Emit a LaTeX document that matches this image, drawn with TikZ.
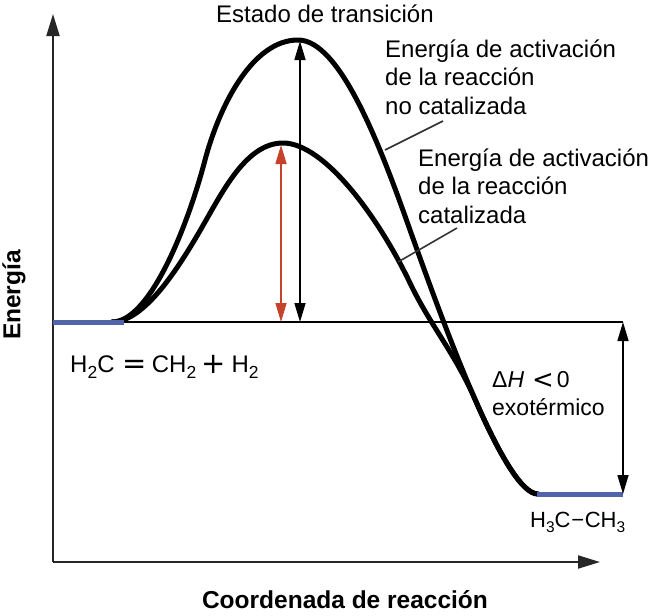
\documentclass[tikz,border=0pt]{standalone}
\usepackage{fontspec}
\setmainfont{Liberation Sans}
\newfontfamily\symf{DejaVu Sans}
\usetikzlibrary{arrows.meta}
\definecolor{lvlblue}{HTML}{5064AA}
\definecolor{actred}{HTML}{C4432A}
\definecolor{leadgray}{HTML}{333333}
\newcommand{\mysub}[1]{\raisebox{-6pt}{\fontsize{17.5}{17.5}\selectfont #1}}
\newcommand{\mysubs}[1]{\raisebox{-0.26em}{\fontsize{15.5}{15.5}\selectfont #1}}
\newcommand{\bigeq}{\raisebox{-1pt}{\fontsize{29}{29}\selectfont\symf =}}
\newcommand{\bigplus}{\raisebox{-1.5pt}{\fontsize{29}{29}\selectfont\symf +}}
\newcommand{\bigless}{\raisebox{-1pt}{\fontsize{26}{26}\selectfont\symf <}}
\begin{document}
\begin{tikzpicture}[x=1pt,y=-1pt,
  lbl/.style={font=\fontsize{24}{28.5}\selectfont, inner sep=0pt, align=left},
  axlbl/.style={font=\fontsize{24.5}{28}\selectfont\bfseries, inner sep=0pt},
  axis/.style={line width=2pt, draw=black!85, -{Triangle[length=22pt,width=13pt]}},
  curve/.style={line width=5pt, line cap=round, line join=round},
  level/.style={line width=5pt, draw=lvlblue},
  dimarrow/.style={line width=1.6pt, {Triangle[length=19pt,width=11pt]}-{Triangle[length=19pt,width=11pt]}},
  leader/.style={line width=1.6pt, draw=leadgray}]
\useasboundingbox (0,0) rectangle (651,616);
% axes
\coordinate (O) at (53,562);
\coordinate (ytop) at (53,14);
\coordinate (xend) at (600,562);
\draw[axis] (O) -- (ytop);
\draw[axis] (O) -- (xend);
% levels
\coordinate (r0) at (53,322);
\coordinate (r1) at (124,322);
\coordinate (rr) at (623,322);
\coordinate (p0) at (537,494);
\coordinate (p1) at (623,494);
\draw[line width=1.5pt] (r1) -- (rr);
% uncatalysed curve
\draw[curve] (112,322) .. controls (150,322) and (188,225) .. (205,160)
  .. controls (220,104) and (253,40) .. (298,40)
  .. controls (340,40) and (380,145) .. (410,230)
  .. controls (445,328) and (505,494) .. (538,494);
% catalysed curve
\draw[curve] (112,322) .. controls (145,322) and (180,266) .. (205,222)
  .. controls (225,187) and (248,143) .. (283,143)
  .. controls (325,143) and (380,220) .. (410,283)
  .. controls (430,325) and (454.75,353) .. (474.75,398.75)
  .. controls (498.25,452.5) and (521.5,494) .. (538,494);
\draw[level] (r0) -- (r1);
\draw[level] (p0) -- (p1);
% arrows
\coordinate (ua) at (300,322);
\coordinate (ub) at (300,41);
\coordinate (ca) at (281,322);
\coordinate (cb) at (281,145);
\draw[dimarrow] (ua) -- (ub);
\draw[dimarrow, draw=actred, fill=actred] (ca) -- (cb);
\draw[dimarrow] (rr) -- (p1);
% leaders
\coordinate (l1a) at (385,150);
\coordinate (l1b) at (443,121);
\coordinate (l2a) at (398,262);
\coordinate (l2b) at (457,228);
\draw[leader] (l1a) -- (l1b);
\draw[leader] (l2a) -- (l2b);
% labels
\node[lbl, anchor=base west] (ts) at (216,22) {Estado de transición};
\node[lbl, anchor=base west] (unc) at (385,114) {Energía de activación\\de la reacción\\no catalizada};
\node[lbl, anchor=base west] (cat) at (418,223) {Energía de activación\\de la reacción\\catalizada};
\node[lbl, anchor=base west] (react) at (70,372) {H\mysub{2}C\hspace{8pt}\bigeq\hspace{5pt}CH\mysub{2}\hspace{5pt}\bigplus\hspace{6pt}H\mysub{2}};
\node[lbl, font=\fontsize{23}{28}\selectfont, anchor=base west] (dh) at (492,415) {Δ\textit{H}\hspace{8pt}\bigless\hspace{3pt}0\\exotérmico};
\node[lbl, font=\fontsize{22}{26}\selectfont, anchor=base west] (prod) at (530,527) {H\mysubs{3}C\hspace{0.03em}−\hspace{0.03em}CH\mysubs{3}};
\node[axlbl, rotate=90] (ylab) at (14,295) {Energía};
\node[axlbl] (xlab) at (345,600) {Coordenada de reacción};
\end{tikzpicture}
\end{document}
